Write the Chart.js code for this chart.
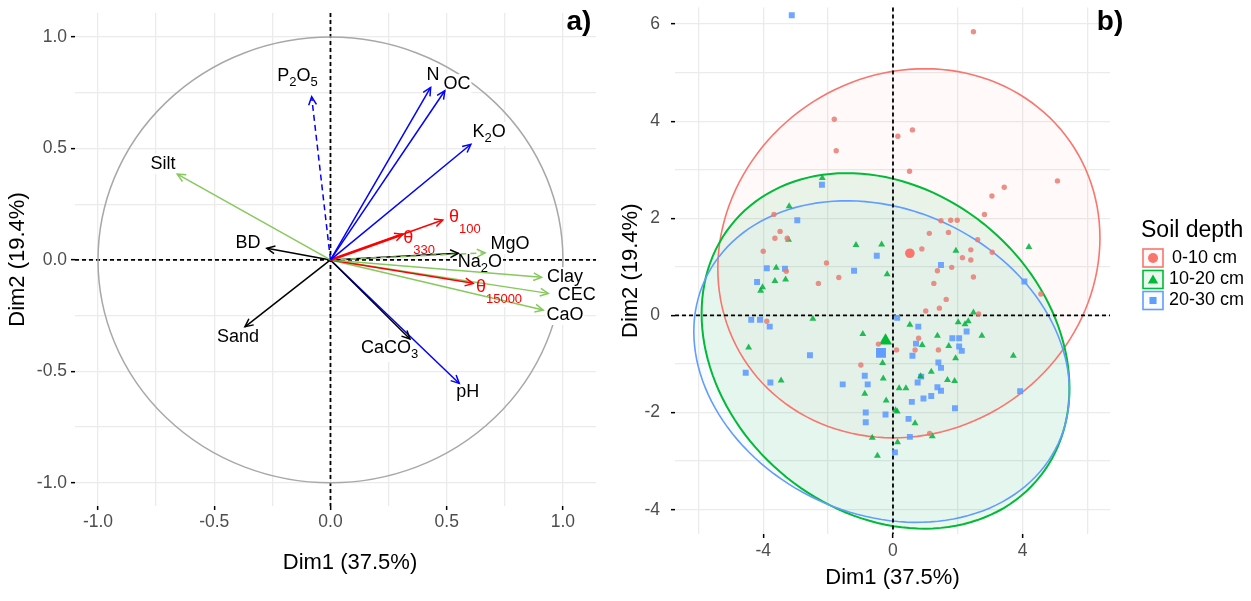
<!DOCTYPE html>
<html>
<head>
<meta charset="utf-8">
<script src="https://cdn.jsdelivr.net/npm/chart.js@4.4.1/dist/chart.umd.min.js"></script>
<style>
  html, body { margin: 0; padding: 0; background: #fff; }
  #wrap { position: relative; width: 1251px; height: 601px; overflow: hidden; }
  #panel-a { position: absolute; left: 0; top: 0; }
  #panel-b { position: absolute; left: 596px; top: 0; background: #fff; }
</style>
</head>
<body>
<div id="wrap">
  <div id="panel-a"><canvas id="chart-var" width="640" height="601"></canvas></div>
  <div id="panel-b"><canvas id="chart-ind" width="655" height="601"></canvas></div>
</div>
<script>
const FONT = '"Liberation Sans", Arial, Helvetica, sans-serif';

// --- panel a: variable coordinates (Dim1, Dim2) ---------------------------------
const VAR_LABELS = ['P_2O_5', 'Silt', 'BD', 'N', 'OC', 'K_2O', 'θ_{100}', 'θ_{330}', 'MgO', 'Na_2O',
  'Clay', 'θ_{15000}', 'CEC', 'CaO', 'CaCO_3', 'pH', 'Sand'];
const VAR_DIM1 = [-0.081, -0.659, -0.274, 0.431, 0.492, 0.604, 0.483, 0.311, 0.665, 0.550,
  0.908, 0.614, 0.937, 0.915, 0.342, 0.554, -0.368];
const VAR_DIM2 = [0.732, 0.385, 0.052, 0.774, 0.759, 0.519, 0.179, 0.115, 0.032, 0.030,
  -0.078, -0.105, -0.150, -0.225, -0.355, -0.554, -0.300];
const VAR_GROUP = ['nutrient', 'texture', 'physical', 'nutrient', 'nutrient', 'nutrient', 'water', 'water', 'texture', 'physical',
  'texture', 'water', 'texture', 'texture', 'physical', 'nutrient', 'physical'];
// supplementary variables are drawn dashed
const VAR_SUPPLEMENTARY = ['P_2O_5', 'MgO'];
// where the repelled labels ended up
const LABEL_DIM1 = [-0.142, -0.720, -0.355, 0.441, 0.544, 0.682, 0.578, 0.381, 0.772, 0.643,
  1.009, 0.725, 1.059, 1.009, 0.254, 0.591, -0.398];
const LABEL_DIM2 = [0.825, 0.430, 0.076, 0.829, 0.789, 0.574, 0.192, 0.098, 0.071, -0.009,
  -0.077, -0.122, -0.157, -0.247, -0.395, -0.592, -0.345];

const GROUP_COLORS = { nutrient: '#0000FF', texture: '#86C95C', physical: '#000000', water: '#FF0000' };

// --- panel b: individuals by soil depth -------------------------------------------
const DEPTHS = ['0-10 cm', '10-20 cm', '20-30 cm'];
const DEPTH_COLORS = ['#F8766D', '#00BA38', '#619CFF'];
const DEPTH_POINT_COLORS = ['rgba(232,125,115,0.85)', 'rgba(0,178,60,0.85)', 'rgba(97,156,255,0.9)'];
const DEPTH_FILLS = ['rgba(248,118,109,0.045)', 'rgba(0,186,56,0.085)', 'rgba(97,156,255,0.035)'];
const DEPTH_SHAPES = ['circle', 'triangle', 'rect'];

const D1_X = [-1.81, -1.75, 0.15, 0.60, 0.51, -3.67, 2.48, 5.07, 3.43, 3.05, 2.82, 1.48, 1.78, 1.98, 1.12, 1.71,
  2.61, 0.89, 2.40, 3.06, 2.14, 2.40, 1.37, 1.81, 2.48, 1.26, 4.56, 1.64, 1.43, 1.01, 2.64, 0.79,
  -3.48, -3.64, -3.26, -4.00, -3.29, -2.05, -1.67, -2.30, -3.89, -0.45, 0.11, -0.99, 0.68, 1.40, 1.13];
const D1_Y = [4.04, 3.39, 3.69, 3.82, 2.97, 2.08, 5.84, 2.77, 2.64, 2.46, 2.08, 1.95, 1.96, 1.96, 1.69, 1.71,
  1.56, 1.37, 1.35, 1.30, 1.19, 1.14, 0.92, 0.99, 0.79, 0.66, 0.44, 0.33, 0.15, 0.09, 0.03, -0.47,
  1.73, 1.59, 1.59, 1.32, 0.91, 1.08, 0.78, 0.66, -0.12, -0.59, -0.71, -1.02, -0.71, -0.71, -2.43];

const D2_X = [-2.18, -3.20, -0.35, 1.94, 4.19, -0.18, 2.48, 0.52, 2.01, 2.22, 2.32, 1.37, 2.74, -3.22, -1.14,
  -3.60, -3.64, -3.31, -4.02, -4.08, -2.47, -0.93, -4.45, -0.32, -3.45, -0.30, -0.87, 0.19, 0.40, 0.90,
  1.72, 1.93, 3.71, 1.18, 0.85, 1.68, 1.90, -0.21, 0.08, 0.13, 0.68, -0.64, 0.14, 1.21, -0.48];
const D2_Y = [2.83, 2.25, 1.46, 1.33, 1.41, 0.85, 0.06, -0.19, -0.14, -0.18, -0.12, -0.42, -0.42, 1.56, 1.45,
  0.98, 0.71, 0.74, 0.58, 0.51, -0.07, -0.38, -0.66, -0.98, -1.34, -1.30, -1.61, -1.50, -1.50, -0.61,
  -0.63, -0.88, -0.83, -1.16, -1.25, -1.33, -1.35, -1.75, -1.95, -1.98, -2.22, -2.52, -2.61, -2.49, -2.89];

const D3_X = [-3.12, -2.19, -2.95, 1.48, 4.05, 0.13, 0.78, 2.27, 1.83, 2.04, -0.50, -3.89, -3.33, -4.19, -1.20, -4.37,
  -4.10, -3.80, -2.56, -4.54, -3.78, -0.87, -1.55, -0.78, 0.71, 2.04, 2.12, 0.60, 1.40, 1.48, 0.87,
  0.76, 1.37, 1.48, 1.18, 0.94, 0.58, 3.92, 1.91, -0.84, -0.84, -0.23, 0.48, 0.52, 0.06];
const D3_Y = [6.18, 2.69, 1.96, 1.04, 0.70, -0.05, -0.23, -0.33, -0.47, -0.47, 1.23, 0.97, 0.96, 0.69, 0.92, -0.09,
  -0.09, -0.23, -0.82, -1.18, -1.38, -1.24, -1.42, -1.42, -0.58, -0.64, -0.73, -0.83, -0.97, -1.08, -1.26,
  -1.38, -1.48, -1.55, -1.66, -1.71, -1.78, -1.56, -1.91, -2.00, -2.20, -2.04, -2.13, -2.50, -2.82];

// group barycentres
const MEAN_X = [0.52, -0.23, -0.37];
const MEAN_Y = [1.28, -0.52, -0.77];

// confidence ellipses: centre, half extents, x-shift of the topmost point
const ELLIPSE_CX = [0.49, -0.23, -0.35];
const ELLIPSE_CY = [1.28, -0.73, -0.95];
const ELLIPSE_HALF_W = [5.89, 5.67, 5.79];
const ELLIPSE_HALF_H = [3.80, 3.66, 3.31];
const ELLIPSE_TOP_SHIFT = [0.49, -1.19, -1.08];

// --- helpers ------------------------------------------------------------------------

const zip = (xs, ys) => xs.map((x, i) => ({ x, y: ys[i] }));

function makeScale({ min, max, step, isMajor, fmt, title, size, pad }) {
  return {
    type: 'linear',
    min,
    max,
    afterFit: (s) => {
      if (s.isHorizontal()) s.height = size;
      else s.width = size;
      // the layout padding alone places the plot area
      s.paddingTop = 0;
      s.paddingBottom = 0;
      s.paddingLeft = 0;
      s.paddingRight = 0;
    },
    ticks: {
      stepSize: step,
      includeBounds: false,
      autoSkip: false,
      maxRotation: 0,
      padding: pad,
      color: '#4D4D4D',
      font: { family: FONT, size: 17.5 },
      callback: (v) => (isMajor(v) ? fmt(v) : ''),
    },
    grid: {
      color: '#EBEBEB',
      lineWidth: 1.3,
      tickLength: 4,
      tickWidth: 1.5,
      tickColor: (c) => (c.tick && isMajor(c.tick.value) ? '#000' : 'rgba(0,0,0,0)'),
    },
    border: { display: false },
    title: { display: true, text: title, color: '#000', font: { family: FONT, size: 22 }, padding: 0 },
  };
}

function richParts(text) {
  const parts = [];
  const re = /_\{([^}]*)\}|_(.)|([^_]+)/g;
  let m;
  while ((m = re.exec(text))) {
    if (m[3]) parts.push({ t: m[3], sub: false });
    else parts.push({ t: m[1] ?? m[2], sub: true });
  }
  return parts;
}

// mode 'bg' paints the white label box, mode 'text' writes the label
function drawRichLabel(ctx, text, cx, cy, color, mode) {
  const isTheta = text.startsWith('θ');
  const parts = richParts(text);
  const mainFont = `18px ${FONT}`;
  const subFont = `13px ${FONT}`;
  const subDy = isTheta ? 12 : 6;
  let w = 0;
  parts.forEach((p) => {
    ctx.font = p.sub ? subFont : mainFont;
    p.w = ctx.measureText(p.t).width;
    w += p.w;
  });
  let x = cx - w / 2;
  if (mode === 'bg') {
    const hasSub = parts.some((p) => p.sub);
    ctx.fillStyle = '#fff';
    ctx.fillRect(x - 1, cy - 10, w + 2, 20 + (hasSub ? subDy - 2 : 0));
    return;
  }
  ctx.fillStyle = color;
  ctx.textBaseline = 'middle';
  ctx.textAlign = 'left';
  parts.forEach((p) => {
    ctx.font = p.sub ? subFont : mainFont;
    ctx.fillText(p.t, x, p.sub ? cy + subDy : cy);
    x += p.w;
  });
}

function arrowHead(ctx, x0, y0, x1, y1, color, width) {
  const a = Math.atan2(y1 - y0, x1 - x0);
  const len = 9;
  const spread = Math.PI / 7;
  ctx.save();
  ctx.strokeStyle = color;
  ctx.lineWidth = width;
  ctx.setLineDash([]);
  ctx.beginPath();
  ctx.moveTo(x1 - len * Math.cos(a - spread), y1 - len * Math.sin(a - spread));
  ctx.lineTo(x1, y1);
  ctx.lineTo(x1 - len * Math.cos(a + spread), y1 - len * Math.sin(a + spread));
  ctx.stroke();
  ctx.restore();
}

function dashedZeroLines(chart) {
  const { ctx, chartArea: a, scales: { x, y } } = chart;
  const x0 = x.getPixelForValue(0);
  const y0 = y.getPixelForValue(0);
  ctx.save();
  ctx.strokeStyle = '#000';
  ctx.lineWidth = 1.8;
  ctx.setLineDash([4, 3]);
  ctx.beginPath();
  ctx.moveTo(x0, a.top);
  ctx.lineTo(x0, a.bottom);
  ctx.moveTo(a.left, y0);
  ctx.lineTo(a.right, y0);
  ctx.stroke();
  ctx.restore();
}

function panelTag(ctx, text, x, y) {
  ctx.save();
  ctx.font = `bold 28px ${FONT}`;
  ctx.fillStyle = '#000';
  ctx.textAlign = 'center';
  ctx.textBaseline = 'middle';
  ctx.fillText(text, x, y);
  ctx.restore();
}

// --- panel a ------------------------------------------------------------------------

const varDecor = {
  id: 'varDecor',
  beforeDatasetsDraw(chart) {
    const { ctx, scales: { x, y } } = chart;
    dashedZeroLines(chart);
    const cx = x.getPixelForValue(0);
    const cy = y.getPixelForValue(0);
    ctx.save();
    ctx.strokeStyle = '#A8A8A8';
    ctx.lineWidth = 1.5;
    ctx.beginPath();
    ctx.ellipse(cx, cy, x.getPixelForValue(1) - cx, cy - y.getPixelForValue(1), 0, 0, 2 * Math.PI);
    ctx.stroke();
    VAR_LABELS.forEach((t, i) => {
      drawRichLabel(ctx, t, x.getPixelForValue(LABEL_DIM1[i]), y.getPixelForValue(LABEL_DIM2[i]), null, 'bg');
    });
    ctx.restore();
  },
  afterDatasetsDraw(chart) {
    const { ctx, scales: { x, y } } = chart;
    chart.data.datasets.forEach((ds, i) => {
      const pts = chart.getDatasetMeta(i).data;
      arrowHead(ctx, pts[0].x, pts[0].y, pts[1].x, pts[1].y, ds.borderColor, 1.5);
    });
    ctx.save();
    VAR_LABELS.forEach((t, i) => {
      const color = VAR_GROUP[i] === 'water' ? '#FF0000' : '#000';
      drawRichLabel(ctx, t, x.getPixelForValue(LABEL_DIM1[i]), y.getPixelForValue(LABEL_DIM2[i]), color, 'text');
    });
    ctx.restore();
    panelTag(ctx, 'a)', 579, 22);
  },
};

new Chart(document.getElementById('chart-var'), {
  type: 'scatter',
  data: {
    datasets: VAR_LABELS.map((name, i) => ({
      label: name,
      data: [{ x: 0, y: 0 }, { x: VAR_DIM1[i], y: VAR_DIM2[i] }],
      showLine: true,
      borderColor: GROUP_COLORS[VAR_GROUP[i]],
      borderWidth: name === 'θ_{330}' ? 2.6 : 1.5,
      borderDash: VAR_SUPPLEMENTARY.includes(name) ? [6, 4] : [],
      pointRadius: 0,
    })),
  },
  options: {
    responsive: false,
    animation: false,
    layout: { padding: { left: 5, top: 13, right: 15, bottom: 25 } },
    plugins: { legend: { display: false }, tooltip: { enabled: false } },
    scales: {
      x: makeScale({
        min: -1.099, max: 1.267, step: 0.25, size: 70, pad: 2,
        isMajor: (v) => Math.abs(v * 2 - Math.round(v * 2)) < 1e-6,
        fmt: (v) => v.toFixed(1),
        title: 'Dim1 (37.5%)',
      }),
      y: makeScale({
        min: -1.104, max: 1.108, step: 0.25, size: 70, pad: 4,
        isMajor: (v) => Math.abs(v * 2 - Math.round(v * 2)) < 1e-6,
        fmt: (v) => v.toFixed(1),
        title: 'Dim2 (19.4%)',
      }),
    },
  },
  plugins: [varDecor],
});

// --- panel b ------------------------------------------------------------------------

function ellipsePath(ctx, x, y, i) {
  const hw = ELLIPSE_HALF_W[i];
  const hh = ELLIPSE_HALF_H[i];
  const k = (ELLIPSE_TOP_SHIFT[i] * hh) / hw;
  const r = Math.sqrt(hh * hh - k * k);
  ctx.beginPath();
  for (let s = 0; s <= 144; s++) {
    const t = (s / 144) * 2 * Math.PI;
    const px = x.getPixelForValue(ELLIPSE_CX[i] + hw * Math.cos(t));
    const py = y.getPixelForValue(ELLIPSE_CY[i] + k * Math.cos(t) + r * Math.sin(t));
    if (s === 0) ctx.moveTo(px, py);
    else ctx.lineTo(px, py);
  }
  ctx.closePath();
}

const indDecor = {
  id: 'indDecor',
  beforeDatasetsDraw(chart) {
    const { ctx, scales: { x, y } } = chart;
    ctx.save();
    DEPTHS.forEach((_, i) => {
      ellipsePath(ctx, x, y, i);
      ctx.fillStyle = DEPTH_FILLS[i];
      ctx.fill();
    });
    DEPTHS.forEach((_, i) => {
      ellipsePath(ctx, x, y, i);
      ctx.strokeStyle = DEPTH_COLORS[i];
      ctx.lineWidth = i === 1 ? 2 : 1.6;
      ctx.stroke();
    });
    ctx.restore();
    dashedZeroLines(chart);
  },
  afterDraw(chart) {
    const { ctx } = chart;
    ctx.save();
    ctx.fillStyle = '#000';
    ctx.textAlign = 'left';
    ctx.textBaseline = 'middle';
    ctx.font = `23px ${FONT}`;
    ctx.fillText('Soil depth', 545, 231);
    const rows = [258, 279.5, 300.5];
    DEPTHS.forEach((name, i) => {
      const top = rows[i] - 9;
      ctx.fillStyle = DEPTH_FILLS[i];
      ctx.fillRect(547, top, 20, 18);
      ctx.strokeStyle = DEPTH_COLORS[i];
      ctx.lineWidth = 1.6;
      ctx.strokeRect(547, top, 20, 18);
      ctx.fillStyle = DEPTH_COLORS[i];
      Chart.helpers.drawPoint(ctx, {
        pointStyle: DEPTH_SHAPES[i], radius: i === 1 ? 6 : 5, rotation: 0, borderWidth: 0,
      }, 557, rows[i] + (i === 1 ? 1 : 0));
      ctx.fillStyle = '#000';
      ctx.font = `18px ${FONT}`;
      ctx.fillText(name, i === 0 ? 576 : 573, rows[i]);
    });
    ctx.restore();
    panelTag(ctx, 'b)', 514, 22);
  },
};

const POINT_X = [D1_X, D2_X, D3_X];
const POINT_Y = [D1_Y, D2_Y, D3_Y];
const POINT_RADIUS = [2.7, 4, 4.2];
const MEAN_RADIUS = [4.8, 7.5, 7];

new Chart(document.getElementById('chart-ind'), {
  type: 'scatter',
  data: {
    datasets: [
      ...DEPTHS.map((name, i) => ({
        label: name,
        data: zip(POINT_X[i], POINT_Y[i]),
        pointStyle: DEPTH_SHAPES[i],
        pointRadius: POINT_RADIUS[i],
        backgroundColor: DEPTH_POINT_COLORS[i],
        borderWidth: 0,
      })),
      ...DEPTHS.map((name, i) => ({
        label: name + ' mean',
        data: [{ x: MEAN_X[i], y: MEAN_Y[i] }],
        pointStyle: DEPTH_SHAPES[i],
        pointRadius: MEAN_RADIUS[i],
        backgroundColor: DEPTH_COLORS[i],
        borderWidth: 0,
      })),
    ],
  },
  options: {
    responsive: false,
    animation: false,
    layout: { padding: { left: 22, top: 7, right: 141, bottom: 10 } },
    plugins: { legend: { display: false }, tooltip: { enabled: false } },
    scales: {
      x: makeScale({
        min: -6.72, max: 6.69, step: 2, size: 57, pad: 2.5,
        isMajor: (v) => Math.abs(v % 4) < 1e-6,
        fmt: (v) => String(v),
        title: 'Dim1 (37.5%)',
      }),
      y: makeScale({
        min: -4.5, max: 6.34, step: 1, size: 57, pad: 11,
        isMajor: (v) => Math.abs(v % 2) < 1e-6,
        fmt: (v) => String(v),
        title: 'Dim2 (19.4%)',
      }),
    },
  },
  plugins: [indDecor],
});
</script>
</body>
</html>
